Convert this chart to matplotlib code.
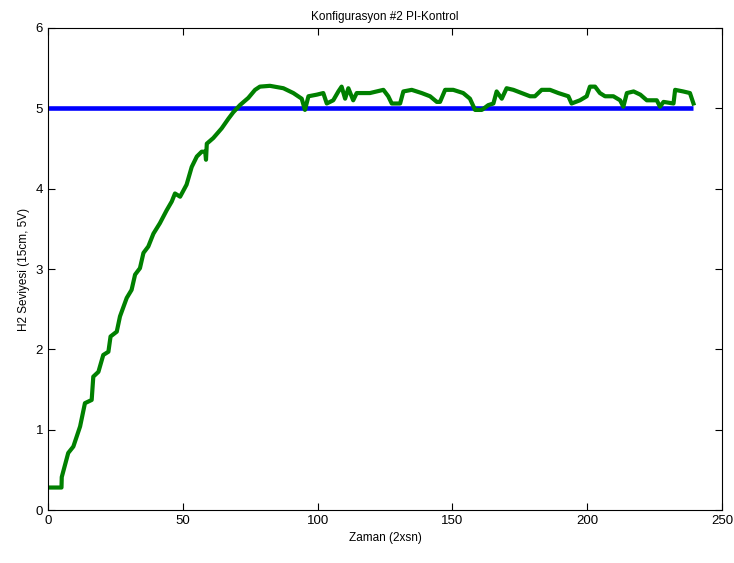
import matplotlib
matplotlib.use('Agg')
import matplotlib.pyplot as plt

# Values
zaman = [0, 5, 5.1, 7.5, 9.4, 11.9, 13.7, 16.2, 16.8, 18.7, 20.5, 22.4, 23.2, 25.5,
         26.7, 29.2, 31.0, 32.3, 34.1, 35.4, 37.2, 39.1, 41.5, 44.0, 45.9, 47.1, 49.0,
         51.4, 53.3, 55.2, 57.0, 58.3, 58.6, 58.9, 61.3, 64.4, 66.9, 68.7, 71.2, 74.3,
         76.8, 78.6, 82.3, 87.3, 91.0, 94.1, 95.3, 96.6, 99.7, 102.1, 103.4, 105.8,
         107.7, 108.9, 110.2, 111.4, 113.2, 114.5, 119.4, 124.4, 126.2, 127.5, 130.6,
         131.8, 134.9, 138.6, 141.7, 144.2, 145.4, 147.3, 150.3, 154.0, 156.5, 158.4,
         160.9, 163.3, 165.2, 166.4, 168.3, 170.1, 172.6, 175.7, 178.8, 180.6, 183.1,
         186.2, 189.3, 193.0, 194.2, 197.3, 199.8, 201.0, 202.9, 204.7, 206.6, 209.7,
         212.2, 213.4, 214.7, 217.2, 219.7, 222.1, 225.8, 227.0, 228.3, 232.0, 232.6,
         235.6, 238.1, 239.4]
seviye = [0.28, 0.28, 0.41, 0.71, 0.79, 1.04, 1.33, 1.37, 1.66, 1.72, 1.93, 1.97, 2.16,
          2.22, 2.41, 2.64, 2.74, 2.93, 3.01, 3.20, 3.28, 3.44, 3.57, 3.73, 3.84, 3.94,
          3.90, 4.05, 4.27, 4.40, 4.46, 4.46, 4.36, 4.56, 4.63, 4.75, 4.87, 4.95, 5.04,
          5.13, 5.23, 5.27, 5.28, 5.25, 5.19, 5.12, 4.98, 5.15, 5.17, 5.19, 5.06, 5.10,
          5.21, 5.27, 5.12, 5.25, 5.10, 5.19, 5.19, 5.23, 5.15, 5.06, 5.06, 5.21, 5.23,
          5.19, 5.15, 5.08, 5.08, 5.23, 5.23, 5.19, 5.12, 4.98, 4.98, 5.04, 5.06, 5.21,
          5.12, 5.25, 5.23, 5.19, 5.15, 5.15, 5.23, 5.23, 5.19, 5.15, 5.06, 5.10, 5.15,
          5.27, 5.27, 5.19, 5.15, 5.15, 5.10, 5.02, 5.19, 5.21, 5.17, 5.10, 5.10, 5.02,
          5.08, 5.06, 5.23, 5.21, 5.19, 5.06]
referans_t = [0, 239.4]
referans = [5, 5]

plt.rcParams['font.family'] = ['Liberation Sans', 'DejaVu Sans']

fig = plt.figure(figsize=(7.34, 5.63), dpi=100)
ax = fig.add_axes([0.0654, 0.0941, 0.9183, 0.8562])

ax.plot(referans_t, referans, color='#0000ff', linewidth=3.3, solid_capstyle='butt')
ax.plot(zaman, seviye, color='#008000', linewidth=3.0)

ax.set_xlim(0, 250)
ax.set_ylim(0, 6)
ax.set_xticks([0, 50, 100, 150, 200, 250])
ax.set_yticks([0, 1, 2, 3, 4, 5, 6])
ax.tick_params(direction='in', top=True, right=True, labelsize=9.5, length=5, width=0.8)
for s in ax.spines.values():
    s.set_linewidth(0.8)

ax.set_title('Konfigurasyon #2 PI-Kontrol', fontsize=8.5, pad=6)
ax.set_xlabel('Zaman (2xsn)', fontsize=8.5)
ax.set_ylabel('H2 Seviyesi (15cm, 5V)', fontsize=8.5)

fig.savefig('out.png', dpi=100)
